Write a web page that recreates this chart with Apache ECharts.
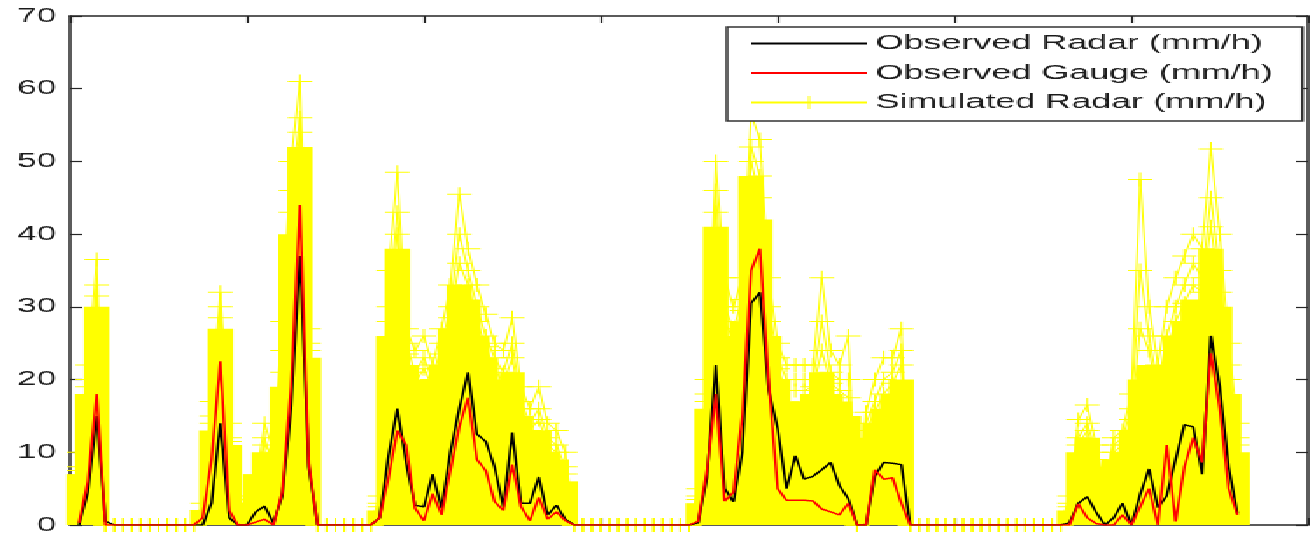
<!DOCTYPE html>
<html><head><meta charset="utf-8">
<script src="https://cdn.jsdelivr.net/npm/echarts@6/dist/echarts.min.js"></script>
<style>
html,body{margin:0;padding:0;background:#fff;overflow:hidden;}
#wrap{width:1310px;height:535px;overflow:hidden;position:relative;background:#fff;}
#chart{width:748px;height:535px;transform:scaleX(1.75134);transform-origin:0 0;}
#chart canvas{image-rendering:pixelated;}
</style></head><body>
<div id="wrap"><div id="chart"></div></div>
<script>
// hourly time index of the first sample
const hourStart = 1;
// x-axis ticks (hours) and y-axis ticks (mm/h)
const xTicks = [0, 20, 40, 60, 80, 100, 120, 140];
const yTicks = [0, 10, 20, 30, 40, 50, 60, 70];

const radarObs = [0,4.5,15,0.5, 0,0,0,0,0,0,0,0,0,0, 0,3,14,1,0,0, 1.8,2.6,0.3,4,16,37,8,0, 0,0,0,0,0,0,
 1,9.5,16,8.5,2.7,2.5,7,2.3,10,16,21,12.5,11.5,8,2.5,12.7,3,3,6.6,1.4,2.7,0.8,0,
 0,0,0,0,0,0,0,0,0,0,0,0,0,
 0.3,6.5,22,5,3.2,10,30.5,32,18.5,13.3,5,9.5,6.3,6.7,7.6,8.6,5.4,3.6,0,0,6.7,8.6,8.5,8.3,0,
 0,0,0,0,0,0,0,0,0,0,0,0,0,0,0,0,0,
 0.3,3,3.9,1.8,0,1,3,0,4.2,7.7,2.4,4,9,13.8,13.5,7,26,19,8,1.6];

const gaugeObs = [0.3,6,18,0, 0,0,0,0,0,0,0,0,0,0, 1,9,22.5,2,0,0, 0.4,0.8,0,4.5,19,44,8.5,0, 0,0,0,0,0,0,
 1,6.5,13,11,2.3,0.6,4.3,1.4,7.5,13.5,17.5,9,7.5,3.2,2,8.3,2.5,0.6,3.8,0.8,1.8,0.6,0,
 0,0,0,0,0,0,0,0,0,0,0,0,0,
 0.5,7.5,18,3.3,4.5,15,35,38,19.5,5,3.4,3.4,3.4,3.3,2.2,1.8,1.4,3,0,0,7.6,6.3,6.5,3,0,
 0,0,0,0,0,0,0,0,0,0,0,0,0,0,0,0,0,
 0,2.9,1,0.2,0,0,1.4,0,2.5,5,0,11,0.5,8,12,8.6,23.6,16,5,1.4];

// highest ensemble member
const simTop = [10,22,36.5,0, 0,0,0,0,0,0,0,0,0,0, 3,17,32,14,4,3, 6,14,10,28,50,61,27,0, 0,0,0,0,0,0,
 4,35,48.5,27,24,26,22,27,33,45.5,38,33,29,25,24,28.5,19,16,19,14,13,10,0,
 0,0,0,0,0,0,0,0,0,0,0,0,0,
 5,20,50,34,30,34,56.5,53,34,25,22,22,22,22,34,24,22,26,0,15.5,20,23,23,27,0,
 0,0,0,0,0,0,0,0,0,0,0,0,0,0,0,0,0,
 4,14.5,16.5,11,5,12,13,18,47.5,30,22,30,34,37,40,38,51.7,40,25,14];

// second highest ensemble member
const simSecond = [8,20,33,0, 0,0,0,0,0,0,0,0,0,0, 2,15,30,12,3,2, 5,12,8,24,46,56,25,0, 0,0,0,0,0,0,
 3,30,43,25,21,23,20,25,30,40,35,30,26,23,21,25,17,14,16,12,11,8,0,
 0,0,0,0,0,0,0,0,0,0,0,0,0,
 4,18,46,30,27,31,52,48,30,23,20,20,20,20,28,21,20,20,0,14,17,20,21,24,0,
 0,0,0,0,0,0,0,0,0,0,0,0,0,0,0,0,0,
 3,12,14,10,4,11,12,16,35,26,19,26,30,33,36,34,45,35,22,12];

// third highest ensemble member
const simThird = [7.5,19,31.5,0, 0,0,0,0,0,0,0,0,0,0, 2,14,28.5,11.5,2.5,2.5, 6,11,9.5,21,43,54,24,0, 0,0,0,0,0,0,
 2.5,28,40,23.5,19.5,21.5,19,23.5,28.5,36,33,28,24.5,21.5,19.5,23,16,13,14.5,11,10,7,0,
 0,0,0,0,0,0,0,0,0,0,0,0,0,
 3.5,17,43,28,25.5,29.5,50,45,28,21.5,18.5,18.5,18.5,19,24,19.5,18.5,17.5,0,13,15.5,18,19.5,22,0,
 0,0,0,0,0,0,0,0,0,0,0,0,0,0,0,0,0,
 2.5,11,13,9,3.5,10,11,14.5,27,24,17.5,24,28,30.5,33,32,41,32,20,11];

// height of the dense bulk of the ensemble
const simCore = [7,18,30,0, 0,0,0,0,0,0,0,0,0,0, 2,13,27,11,2,3, 7,10,9,19,40,52,23,0, 0,0,0,0,0,0,
 2,26,38,22,18,20,18,22,27,33,31,26,23,20,18,21,15,12,13,10,9,6,0,
 0,0,0,0,0,0,0,0,0,0,0,0,0,
 3,16,41,26,24,28,48,42,26,20,17,17,17,18,21,18,17,15,0,12,14,16,18,20,0,
 0,0,0,0,0,0,0,0,0,0,0,0,0,0,0,0,0,
 2,10,12,8,3,9,10,13,20,22,16,22,26,28,31,30,38,30,18,10];

const hours = radarObs.map((_, i) => hourStart + i);
const pair = arr => arr.map((v, i) => [hours[i], v]);

const SIM = 'Simulated Radar (mm/h)';
const RAD = 'Observed Radar (mm/h)';
const GAU = 'Observed Gauge (mm/h)';
const plus = 'path://M0,13H28V15H0Z M13,0H15V28H13Z';
const yellow = '#ffff00';
const axisCol = '#262626';

const chart = echarts.init(document.getElementById('chart'), null, {renderer: 'canvas'});
const xBase = {
  type: 'value', min: xTicks[0], max: xTicks[xTicks.length - 1], interval: xTicks[1] - xTicks[0],
  axisLine: {show: true, onZero: false, lineStyle: {color: axisCol, width: 1.5}},
  axisTick: {show: true, inside: true, length: 7, lineStyle: {color: axisCol, width: 1.2}},
  axisLabel: {show: false}, splitLine: {show: false}
};
const yBase = {
  type: 'value', min: yTicks[0], max: yTicks[yTicks.length - 1], interval: yTicks[1] - yTicks[0],
  axisLine: {show: true, onZero: false, lineStyle: {color: axisCol, width: 1.5}},
  axisTick: {show: true, inside: true, length: 7, lineStyle: {color: axisCol, width: 1.2}},
  splitLine: {show: false}
};
const lineSer = (name, data, color, z, width) => ({
  name, type: 'line', data: pair(data), z, symbol: 'none', clip: true,
  lineStyle: {color, width}, itemStyle: {color}, animation: false
});
const simLine = data => ({
  name: SIM, type: 'line', data: pair(data), z: 3, clip: true,
  symbol: plus, symbolSize: 14, showSymbol: true, showAllSymbol: true,
  itemStyle: {color: yellow}, lineStyle: {color: yellow, width: 1}, animation: false
});

chart.setOption({
  animation: false,
  backgroundColor: '#fff',
  grid: {left: 40, right: 1, top: 16, bottom: 5, containLabel: false},
  xAxis: [Object.assign({position: 'bottom'}, xBase), Object.assign({position: 'top'}, xBase)],
  yAxis: [
    Object.assign({position: 'left', axisLabel: {show: true, margin: 8, color: '#1a1a1a',
      fontFamily: 'Liberation Sans', fontSize: 20}}, yBase),
    Object.assign({position: 'right', axisLabel: {show: false}}, yBase)
  ],
  legend: {
    orient: 'vertical', left: 415, top: 27,
    padding: [6, 17, 8, 13], itemGap: 8.5, itemWidth: 66, itemHeight: 16,
    backgroundColor: '#fff', borderColor: '#333', borderWidth: 1.5, borderRadius: 0,
    textStyle: {fontFamily: 'Liberation Sans', fontSize: 20.5, color: '#1a1a1a', lineHeight: 20},
    z: 20,
    data: [
      {name: RAD, itemStyle: {opacity: 0}},
      {name: GAU, itemStyle: {opacity: 0}},
      {name: SIM}
    ],
    selectedMode: false
  },
  series: [
    simLine(simTop),
    simLine(simSecond),
    simLine(simThird),
    {name: SIM, type: 'bar', data: pair(simCore), z: 2, barWidth: 14.5, clip: true,
     itemStyle: {color: yellow}, animation: false},
    lineSer(RAD, radarObs, '#000000', 5, 1.5),
    lineSer(GAU, gaugeObs, '#ff0000', 6, 1.5)
  ]
});
</script>
</body></html>
